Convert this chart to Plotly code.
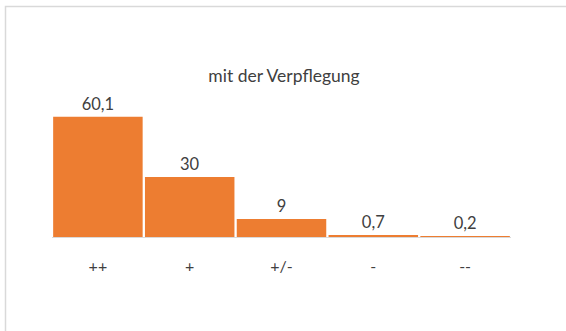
import plotly.graph_objects as go

# Zufriedenheit mit der Verpflegung (Anteile in %)
categories = ["++", "+", "+/-", "-", "--"]
values = [60.1, 30, 9, 0.7, 0.2]
title_text = "mit der Verpflegung"

W, H = 566, 331
ML, MR, MT, MB = 52, 55, 97, 94
plot_w = W - ML - MR
plot_h = H - MT - MB


def px_to_paper_x(px):
    return (px - ML) / plot_w


def px_to_paper_y(py):
    return (H - MB - py) / plot_h


fig = go.Figure(
    go.Bar(
        x=categories,
        y=values,
        marker=dict(color="#ED7D31", line=dict(width=0)),
        text=values,
        texttemplate="%{y}",
        textposition="outside",
        textfont=dict(family="Lato", size=16.5, color="#404040"),
        cliponaxis=False,
    )
)

# light frame around the chart area
fig.add_shape(
    type="rect",
    xref="paper", yref="paper",
    x0=px_to_paper_x(5.5), x1=px_to_paper_x(W + 10),
    y0=px_to_paper_y(H + 10), y1=px_to_paper_y(6.5),
    line=dict(color="#D9D9D9", width=1.5),
    fillcolor="rgba(0,0,0,0)",
    layer="below",
)

fig.update_layout(
    width=W,
    height=H,
    margin=dict(l=ML, r=MR, t=MT, b=MB),
    paper_bgcolor="white",
    plot_bgcolor="white",
    separators=",.",
    bargap=0.025,
    showlegend=False,
    title=dict(
        text=title_text,
        x=284 / W,
        xanchor="center",
        y=1 - 76 / H,
        yanchor="middle",
        font=dict(family="Lato", size=17.5, color="#404040"),
    ),
    xaxis=dict(
        showline=True,
        linecolor="#D9D9D9",
        linewidth=1,
        ticks="outside",
        ticklen=15,
        tickcolor="rgba(0,0,0,0)",
        tickfont=dict(family="Lato", size=16, color="#404040"),
        showgrid=False,
        zeroline=False,
    ),
    yaxis=dict(
        range=[0, 70],
        visible=False,
        showgrid=False,
        zeroline=False,
    ),
)

fig.write_html("out.html")
